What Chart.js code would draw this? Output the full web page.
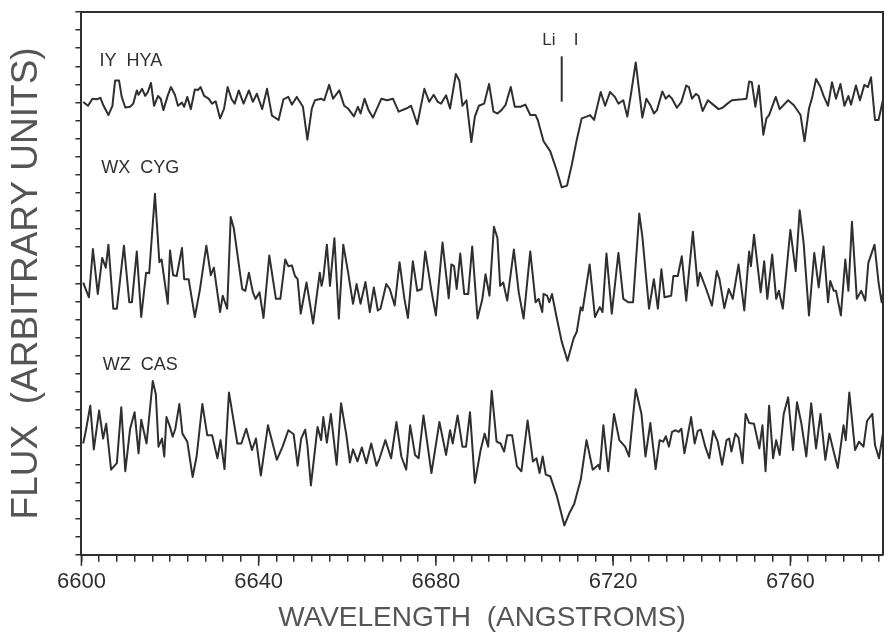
<!DOCTYPE html>
<html lang="en">
<head>
<meta charset="UTF-8">
<title>Li I 6708 spectra</title>
<script src="https://cdn.jsdelivr.net/npm/chart.js"></script>
<style>
  html, body { margin: 0; padding: 0; background: #fff; }
</style>
</head>
<body>
<canvas id="spectra" width="888" height="634"></canvas>
<script>
// three stars, each spectrum: wavelength (Angstrom) + continuum-normalised flux
const starNames = ['IY  HYA', 'WX  CYG', 'WZ  CAS'];
const starOffsets = [1.30, 0.35, -0.40];   // vertical shift of each spectrum

const waveIY = [
  6600.4,6601.5,6602.5,6603.5,6604.3,6605.0,6606.1,6607.0,6607.6,6608.5,
  6609.1,6609.9,6611.0,6611.7,6612.5,6612.9,6613.7,6614.4,6615.0,6615.7,
  6616.4,6617.3,6617.9,6618.5,6619.5,6620.2,6621.1,6621.8,6622.7,6623.2,
  6623.9,6624.7,6625.6,6626.3,6626.9,6627.7,6628.7,6629.5,6630.3,6631.3,
  6632.2,6633.0,6633.9,6634.6,6635.5,6636.6,6637.8,6638.7,6639.6,6640.8,
  6641.9,6643.0,6644.5,6645.6,6646.7,6647.5,6648.6,6650.0,6651.0,6652.0,
  6652.7,6654.1,6654.8,6655.9,6656.8,6658.2,6659.3,6660.2,6661.5,6662.4,
  6663.0,6663.9,6664.8,6665.8,6667.7,6669.0,6670.3,6671.6,6673.3,6674.4,
  6675.8,6677.4,6678.5,6679.5,6680.4,6681.2,6682.3,6683.2,6684.5,6685.3,
  6686.0,6686.9,6688.0,6688.8,6689.7,6690.9,6692.0,6693.0,6693.9,6694.8,
  6695.7,6696.9,6697.8,6699.1,6700.2,6701.3,6702.5,6703.0,6704.3,6705.8,
  6707.3,6708.4,6709.6,6710.7,6711.8,6712.9,6714.0,6714.8,6715.7,6717.2,
  6718.2,6719.3,6720.4,6721.2,6722.3,6723.2,6724.1,6725.1,6726.6,6727.5,
  6728.4,6729.2,6729.9,6731.1,6731.9,6732.6,6733.3,6734.4,6735.4,6736.5,
  6737.1,6737.8,6738.7,6739.3,6740.2,6741.4,6742.3,6743.8,6744.7,6745.8,
  6746.8,6749.2,6750.1,6750.7,6751.3,6752.1,6752.9,6753.9,6754.6,6755.2,
  6756.7,6757.6,6759.5,6760.8,6762.3,6763.2,6764.2,6764.9,6765.8,6766.8,
  6767.5,6768.5,6769.4,6770.3,6771.3,6772.2,6773.1,6773.7,6774.8,6775.7,
  6776.7,6777.5,6778.2,6779.1,6779.9,6781.2
];
const fluxIY = [
  0.998,0.979,1.015,1.012,1.019,0.979,0.932,0.979,1.107,1.107,
  1.024,0.970,0.974,0.990,1.057,1.035,1.065,1.029,1.049,1.095,
  0.979,1.029,1.015,0.957,1.032,1.074,1.035,0.979,0.995,0.974,
  1.024,0.962,1.062,1.059,1.074,1.029,1.015,0.990,1.002,0.915,
  0.965,1.074,1.012,0.990,1.057,0.990,1.057,0.999,1.040,0.962,
  1.065,0.929,0.907,1.012,1.024,0.985,1.024,0.974,0.807,0.965,
  1.007,1.015,1.007,1.085,1.015,1.057,0.979,0.965,0.925,0.974,
  0.940,1.015,0.957,0.919,1.015,1.007,1.015,0.949,0.965,0.979,
  0.885,1.065,0.999,1.035,0.999,0.990,1.032,0.965,1.140,1.107,
  0.979,1.007,0.795,0.924,0.979,0.990,1.090,0.949,0.940,0.957,
  0.982,1.074,0.974,0.974,0.985,0.932,0.932,0.907,0.799,0.749,
  0.649,0.565,0.574,0.682,0.807,0.915,0.924,0.932,0.907,1.049,
  0.979,1.049,1.024,0.990,1.007,0.924,1.049,1.199,0.919,1.015,
  0.982,0.940,0.957,1.052,1.015,1.032,1.015,0.969,0.999,1.082,
  1.074,1.015,1.040,1.029,0.952,1.007,0.990,0.962,0.969,0.990,
  1.007,1.012,1.015,1.102,1.099,0.974,1.082,0.832,0.915,0.932,
  1.024,0.962,1.007,0.982,0.932,0.799,0.965,1.019,1.115,1.074,
  1.029,0.979,1.099,1.015,1.090,0.979,1.029,0.985,1.082,1.007,
  1.085,1.074,1.124,0.907,0.907,1.040
];

const waveWX = [
  6600.4,6601.7,6602.6,6603.7,6604.7,6605.5,6606.1,6607.2,6608.0,6609.6,
  6610.8,6611.4,6612.5,6613.5,6614.6,6615.3,6616.6,6617.6,6618.1,6618.5,
  6619.5,6620.0,6620.7,6621.5,6622.7,6623.2,6624.2,6625.6,6626.7,6628.2,
  6629.2,6629.9,6631.3,6631.9,6632.9,6633.7,6634.4,6636.3,6637.0,6637.8,
  6638.7,6639.3,6640.2,6641.1,6642.4,6643.9,6644.9,6646.0,6646.7,6647.5,
  6648.2,6648.8,6649.5,6650.8,6652.3,6653.8,6654.2,6654.6,6655.4,6656.1,
  6657.1,6658.1,6659.1,6660.2,6661.3,6662.1,6663.0,6664.1,6665.1,6666.0,
  6666.9,6667.5,6668.8,6669.6,6670.7,6671.8,6672.9,6673.7,6674.8,6675.8,
  6676.8,6677.6,6679.0,6680.0,6681.5,6682.9,6683.5,6684.1,6684.7,6685.5,
  6686.4,6687.3,6688.2,6689.4,6690.5,6691.2,6692.1,6693.1,6693.9,6694.5,
  6695.2,6696.1,6697.6,6698.7,6699.8,6701.3,6702.5,6703.2,6704.0,6704.3,
  6705.1,6705.6,6706.2,6707.3,6708.4,6709.7,6711.1,6711.8,6712.7,6713.1,
  6714.7,6715.9,6717.0,6717.6,6718.5,6719.7,6721.2,6722.3,6723.4,6724.5,
  6725.9,6726.6,6728.1,6729.2,6730.1,6730.9,6731.6,6733.1,6733.6,6734.6,
  6735.5,6736.5,6738.0,6739.1,6739.6,6741.0,6742.3,6743.4,6744.0,6745.1,
  6746.1,6747.0,6748.3,6749.6,6750.7,6751.1,6751.8,6753.3,6754.1,6754.8,
  6755.9,6756.8,6757.4,6758.3,6760.0,6761.2,6762.1,6763.0,6764.2,6765.4,
  6766.4,6767.5,6768.5,6769.0,6769.8,6770.3,6771.4,6772.4,6773.1,6773.9,
  6775.0,6776.0,6776.9,6777.6,6779.0,6779.9,6780.6,6781.2
];
const fluxWX = [
  1.032,0.957,1.202,0.974,1.157,1.107,1.224,0.899,0.899,1.219,
  0.932,0.932,1.190,0.857,1.082,1.079,1.482,1.135,1.149,1.082,
  0.924,1.195,1.069,1.065,1.207,1.049,1.049,0.857,0.990,1.219,
  1.069,1.107,0.882,0.965,0.899,1.365,1.307,0.999,0.990,1.082,
  0.982,0.949,0.982,0.852,1.169,0.949,0.949,1.149,1.115,1.119,
  1.065,1.049,0.874,1.032,0.824,1.082,1.015,1.057,1.224,1.015,
  1.257,0.849,1.224,1.082,0.924,1.024,0.924,1.035,0.882,1.007,
  0.890,0.899,1.024,0.999,0.915,1.135,0.949,0.852,1.140,0.990,
  0.999,1.190,0.990,0.865,1.235,0.952,1.124,1.115,0.999,1.179,
  0.974,0.974,1.215,0.849,0.949,1.074,0.965,1.315,1.257,1.015,
  1.032,0.940,1.199,0.982,0.849,1.190,0.932,0.949,0.882,0.974,
  0.965,0.932,0.974,0.849,0.732,0.635,0.749,0.782,0.907,0.890,
  1.124,0.857,0.907,0.882,1.179,0.874,1.182,0.949,0.932,0.932,
  1.382,1.265,0.899,1.049,0.899,1.099,0.957,0.965,1.065,1.065,
  1.165,0.940,1.290,1.015,1.082,0.999,0.915,1.090,1.049,0.902,
  0.999,0.949,1.124,0.890,1.190,1.115,1.274,0.982,1.140,0.949,
  1.174,0.949,0.990,0.899,1.299,1.090,1.399,1.232,0.865,1.182,
  1.007,1.215,0.932,1.040,0.990,0.990,0.865,1.149,0.990,1.340,
  0.949,0.990,0.940,1.132,1.224,1.032,0.932,1.015
];

const waveWZ = [
  6600.4,6601.0,6602.0,6602.8,6604.0,6604.9,6605.6,6606.7,6608.0,6609.0,
  6609.9,6611.0,6612.0,6612.9,6613.5,6614.7,6616.1,6616.8,6617.4,6618.2,
  6618.7,6619.2,6620.0,6620.6,6621.2,6622.1,6622.8,6623.9,6625.1,6626.0,
  6627.3,6628.4,6629.5,6630.7,6631.4,6632.3,6633.3,6635.2,6636.1,6637.2,
  6638.5,6639.4,6640.5,6642.1,6644.1,6645.4,6646.7,6647.9,6648.8,6649.6,
  6650.5,6651.0,6651.8,6653.3,6654.1,6654.6,6655.4,6656.3,6657.6,6658.6,
  6659.8,6660.6,6661.3,6662.3,6663.3,6664.3,6665.4,6666.6,6667.3,6668.6,
  6669.9,6671.1,6672.2,6673.3,6674.2,6675.3,6676.1,6677.2,6679.0,6680.8,
  6682.3,6683.2,6683.8,6684.9,6686.0,6686.8,6687.7,6688.8,6690.1,6691.0,
  6691.8,6692.6,6693.7,6694.6,6695.4,6696.1,6697.2,6698.3,6699.3,6700.7,
  6701.9,6702.7,6703.4,6704.1,6704.8,6705.8,6707.3,6709.0,6710.2,6711.2,
  6712.7,6714.0,6715.4,6716.7,6717.0,6717.8,6718.9,6720.2,6721.4,6722.7,
  6723.6,6725.1,6726.4,6727.3,6728.4,6729.6,6730.5,6731.3,6731.9,6732.6,
  6733.3,6734.1,6734.8,6735.4,6736.1,6737.6,6738.4,6739.1,6739.8,6740.8,
  6741.7,6742.6,6743.6,6744.6,6745.6,6746.2,6746.7,6747.6,6748.3,6749.2,
  6749.9,6750.7,6751.8,6753.0,6753.7,6754.4,6755.2,6756.1,6756.8,6757.6,
  6758.5,6759.5,6760.6,6761.5,6762.5,6763.6,6764.7,6765.8,6766.8,6767.9,
  6768.8,6769.6,6770.7,6772.0,6772.5,6773.3,6774.6,6775.5,6776.5,6777.3,
  6778.5,6779.1,6780.0,6781.2
];
const fluxWZ = [
  0.965,1.029,1.157,0.935,1.132,0.990,1.065,0.832,0.865,1.149,
  0.824,1.040,1.124,0.915,1.085,0.965,1.282,1.215,0.949,0.990,
  0.899,1.099,1.049,0.999,1.040,1.165,1.015,0.974,0.795,0.899,
  1.165,1.007,1.007,0.890,0.982,0.835,1.224,0.965,0.965,1.040,
  0.932,0.990,0.802,1.057,0.882,0.949,1.032,1.012,0.852,0.990,
  1.035,0.957,0.752,1.049,0.982,1.099,0.969,1.115,0.857,1.169,
  1.007,0.869,0.935,0.874,0.945,0.865,0.965,0.852,0.890,0.982,
  0.890,1.074,0.899,0.832,1.057,0.907,0.890,1.107,0.815,1.074,
  0.907,1.032,0.965,1.107,0.949,0.949,1.124,0.765,0.932,1.015,
  0.949,1.232,0.974,0.965,0.924,1.007,1.007,0.849,0.824,1.082,
  0.874,0.890,0.815,0.899,0.807,0.799,0.699,0.549,0.615,0.657,
  0.782,0.982,0.832,0.857,0.835,1.057,0.824,1.115,0.982,0.949,
  0.899,1.240,1.115,0.899,1.069,0.835,0.982,0.974,1.002,0.949,
  1.024,1.032,1.024,1.040,0.915,1.099,0.965,1.029,1.035,0.949,
  0.890,1.029,0.974,0.857,0.982,0.990,0.924,1.015,0.995,0.865,
  1.115,1.069,1.065,0.940,1.057,0.824,1.157,0.890,0.982,0.907,
  1.115,1.199,0.932,1.174,1.065,0.899,1.169,0.940,1.115,0.882,
  1.015,0.940,0.840,1.057,0.982,1.224,0.932,0.974,0.949,1.079,
  1.115,0.957,0.890,1.057
];

const xLabelTicks = [6600, 6640, 6680, 6720, 6760];
const liWave = 6708.4;

// ---- annotation placement (data coords) ----
const nameWave = [6604.1, 6604.5, 6604.8];
const nameLevel = [2.508, 1.963, 0.963];
const liText = { wave: 6704.0, iWave: 6711.1, level: 2.61 };
const liMark = { top: 2.53, bottom: 2.30 };

const fluxMax = 2.755;
const fluxTickCount = 30;

const ink = '#2f2f2f';
const font = '"Liberation Sans", Arial, sans-serif';

const spectra = [[waveIY, fluxIY], [waveWX, fluxWX], [waveWZ, fluxWZ]];
const datasets = spectra.map(([w, f], i) => ({
  label: starNames[i],
  data: w.map((v, j) => ({ x: v, y: f[j] + starOffsets[i] })),
  borderColor: ink,
  borderWidth: 2,
  borderJoinStyle: 'round',
  pointRadius: 0,
  tension: 0,
  fill: false
}));

const annotate = {
  id: 'annotate',
  afterDraw(chart) {
    const { ctx } = chart;
    const x = chart.scales.x, y = chart.scales.y;
    ctx.save();
    ctx.fillStyle = ink;
    ctx.textBaseline = 'middle';
    ctx.font = '18px ' + font;
    starNames.forEach((n, i) => {
      ctx.fillText(n, x.getPixelForValue(nameWave[i]), y.getPixelForValue(nameLevel[i]));
    });
    ctx.font = '17px ' + font;
    ctx.fillText('Li', x.getPixelForValue(liText.wave), y.getPixelForValue(liText.level));
    ctx.fillText('I', x.getPixelForValue(liText.iWave), y.getPixelForValue(liText.level));

    ctx.strokeStyle = ink;
    ctx.lineWidth = 2;
    const lx = x.getPixelForValue(liWave);
    ctx.beginPath();
    ctx.moveTo(lx, y.getPixelForValue(liMark.top));
    ctx.lineTo(lx, y.getPixelForValue(liMark.bottom));
    ctx.stroke();

    // labelled ticks are a bit longer
    ctx.lineWidth = 1.5;
    xLabelTicks.forEach(t => {
      const px = x.getPixelForValue(t);
      ctx.beginPath();
      ctx.moveTo(px, x.top);
      ctx.lineTo(px, x.top + 11);
      ctx.stroke();
    });
    ctx.restore();
  }
};

new Chart(document.getElementById('spectra'), {
  type: 'line',
  data: { datasets },
  options: {
    responsive: false,
    animation: false,
    devicePixelRatio: 1,
    layout: { padding: { left: 3, right: 1, top: 12, bottom: 0 } },
    plugins: { legend: { display: false }, tooltip: { enabled: false } },
    scales: {
      x: {
        type: 'linear',
        position: 'bottom',
        min: 6600,
        max: 6780.8,
        border: { display: true, color: ink, width: 2 },
        grid: { drawOnChartArea: false, drawTicks: true, tickLength: 7, color: ink, lineWidth: 1.5 },
        ticks: {
          stepSize: 4,
          autoSkip: false,
          maxRotation: 0,
          includeBounds: false,
          padding: 9,
          color: ink,
          font: { family: font, size: 22, lineHeight: 1 },
          callback: v => xLabelTicks.includes(Math.round(v)) ? String(Math.round(v)) : ''
        },
        title: {
          display: true,
          text: 'WAVELENGTH  (ANGSTROMS)',
          color: '#555',
          font: { family: font, size: 28, lineHeight: 1.15 },
          padding: { top: 0, bottom: 0 }
        }
      },
      y: {
        type: 'linear',
        position: 'left',
        min: 0,
        max: fluxMax,
        afterBuildTicks: s => {
          const t = [];
          for (let i = 0; i <= fluxTickCount; i++) t.push({ value: fluxMax * i / fluxTickCount });
          s.ticks = t;
        },
        border: { display: true, color: ink, width: 2 },
        grid: { drawOnChartArea: false, drawTicks: true, tickLength: 6, color: ink, lineWidth: 1.5 },
        ticks: { display: false, autoSkip: false },
        title: {
          display: true,
          text: 'FLUX  (ARBITRARY UNITS)',
          color: '#555',
          font: { family: font, size: 37, lineHeight: 1.2 },
          padding: { top: 2, bottom: 26 }
        }
      },
      xTop: {
        type: 'linear',
        position: 'top',
        display: true,
        border: { display: true, color: ink, width: 2 },
        grid: { display: false, drawTicks: false },
        ticks: { display: false }
      },
      yRight: {
        type: 'linear',
        position: 'right',
        display: true,
        border: { display: true, color: ink, width: 2 },
        grid: { display: false, drawTicks: false },
        ticks: { display: false }
      }
    }
  },
  plugins: [annotate]
});
</script>
</body>
</html>
